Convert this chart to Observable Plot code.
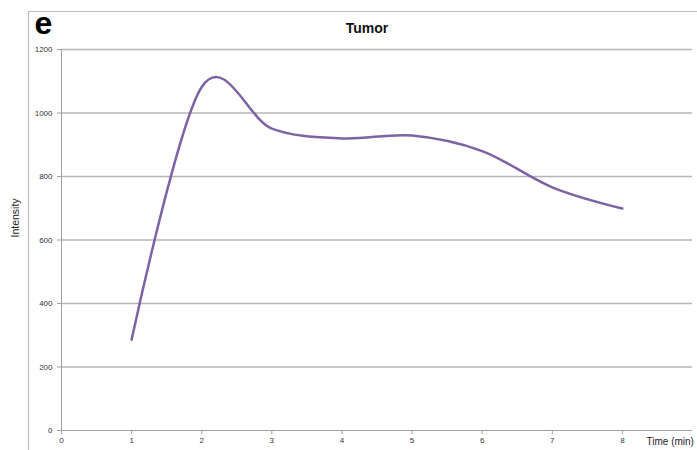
<!DOCTYPE html>
<html>
<head>
<meta charset="utf-8">
<script src="https://cdn.jsdelivr.net/npm/d3@7"></script>
<script src="https://cdn.jsdelivr.net/npm/@observablehq/plot@0.6"></script>
<style>
  html, body { margin: 0; padding: 0; background: #fff; }
  #chart svg { display: block; }
</style>
</head>
<body>
<div id="chart"></div>
<script>
const times = [1, 2, 3, 4, 5, 6, 7, 8];
const intensity = [286, 1082, 951, 920, 929, 880, 766, 699];
const xTicks = [0, 1, 2, 3, 4, 5, 6, 7, 8];
const yTicks = [0, 200, 400, 600, 800, 1000, 1200];
const panelLetter = "e";
const title = "Tumor";
const xLabel = "Time (min)";
const yLabel = "Intensity";

const data = times.map((t, i) => ({t, v: intensity[i]}));
const font = "'Liberation Sans', Arial, sans-serif";

const chart = Plot.plot({
  width: 697,
  height: 450,
  marginLeft: 61,
  marginRight: 5,
  marginTop: 49,
  marginBottom: 20,
  style: {fontFamily: font, background: "#fff", overflow: "visible"},
  x: {domain: [0, 9]},
  y: {domain: [0, 1200]},
  marks: [
    Plot.gridY(yTicks.filter(d => d > 0), {stroke: "#b5b5b5", strokeOpacity: 1, strokeWidth: 1.3}),
    Plot.ruleY([0], {stroke: "#a0a0a0", strokeWidth: 1}),
    Plot.ruleX([0], {stroke: "#a0a0a0", strokeWidth: 1}),
    Plot.axisY(yTicks, {tickSize: 4, tickPadding: 5, fontSize: 8, label: null, tickFormat: d => String(d), stroke: "#a0a0a0", fill: "#333"}),
    Plot.axisX(xTicks, {tickSize: 4, tickPadding: 3, fontSize: 8, label: null, tickFormat: d => String(d), stroke: "#a0a0a0", fill: "#333"}),
    Plot.line(data, {x: "t", y: "v", curve: "cardinal", stroke: "#7e62a4", strokeWidth: 2.5}),
    Plot.text([title], {frameAnchor: "top", lineAnchor: "middle", dx: -10, dy: -20.5, fontSize: 14, fontWeight: "bold", fill: "#111"}),
    Plot.text([panelLetter], {frameAnchor: "top-left", lineAnchor: "middle", textAnchor: "start", dx: -27, dy: -25.5, fontSize: 32, fontWeight: "bold", fill: "#000"}),
    Plot.text([yLabel], {frameAnchor: "left", lineAnchor: "middle", rotate: -90, dx: -45.5, dy: -2.5, fontSize: 10.5, fill: "#222"}),
    Plot.text([xLabel], {frameAnchor: "bottom-right", lineAnchor: "middle", textAnchor: "start", dx: -46, dy: 11.5, fontSize: 10, fill: "#222"})
  ]
});

// decorative outer chart-area border (left and top edges)
const svg = d3.select(chart);
svg.insert("path", ":first-child")
  .attr("d", "M28.5,450V11.5H697")
  .attr("fill", "none")
  .attr("stroke", "#bdbdbd")
  .attr("stroke-width", 1.2);

document.getElementById("chart").appendChild(chart);
</script>
</body>
</html>
